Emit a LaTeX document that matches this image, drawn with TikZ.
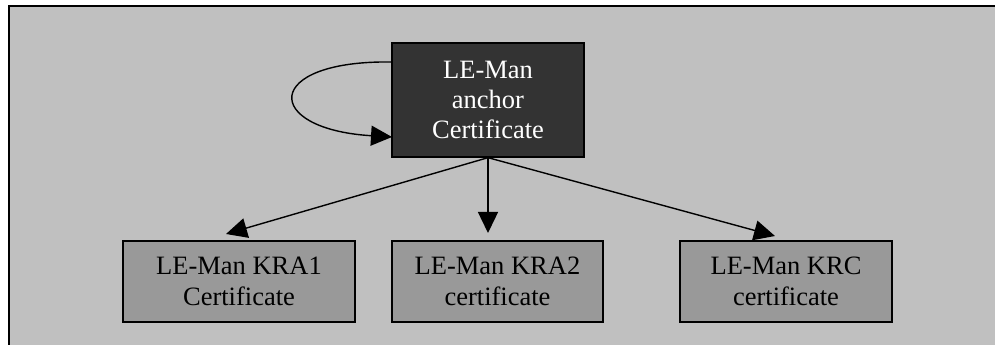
\documentclass[tikz,border=0pt]{standalone}
\usepackage{fontspec}
\setmainfont{Liberation Serif}
\usetikzlibrary{arrows.meta}
\definecolor{bggray}{HTML}{C0C0C0}
\definecolor{darkbox}{HTML}{333333}
\definecolor{midbox}{HTML}{999999}
\tikzset{
  anchorbox/.style={draw=black, line width=1.3pt, fill=darkbox, text=white, align=center,
    minimum width=192pt, minimum height=114pt, inner sep=0pt,
    font=\fontsize{26.5}{30}\selectfont},
  certbox/.style={draw=black, line width=1.3pt, fill=midbox, text=black, align=center,
    minimum height=81pt, inner sep=0pt,
    font=\fontsize{26.5}{31}\selectfont},
  conn/.style={line width=1.4pt, -{Triangle[length=21pt,width=20pt]}}
}
\begin{document}
\begin{tikzpicture}[x=1pt,y=1pt]
\useasboundingbox (0,0) rectangle (995,345);
\fill[white] (0,0) rectangle (995,345);
\draw[line width=2.2pt, fill=bggray] (9,-20) rectangle (1020,339);
\node[anchorbox] (top) at (488,245) {LE-Man\\anchor\\Certificate};
\node[certbox, minimum width=232pt] (kra1) at (239,63.5) {LE-Man KRA1\\Certificate};
\node[certbox, minimum width=211pt] (kra2) at (497.5,63.5) {LE-Man KRA2\\certificate};
\node[certbox, minimum width=212pt] (krc) at (786,63.5) {LE-Man KRC\\certificate};
\coordinate (t1) at (226,111);
\coordinate (t2) at (488,112);
\coordinate (t3) at (775,109);
\coordinate (ls) at (392,283);
\coordinate (le) at (392,208);
\draw[conn] (top.south) -- (t1);
\draw[conn] (top.south) -- (t2);
\draw[conn] (top.south) -- (t3);
\draw[conn] (ls) .. controls (262,285) and (262,216) .. (le);
\end{tikzpicture}
\end{document}
